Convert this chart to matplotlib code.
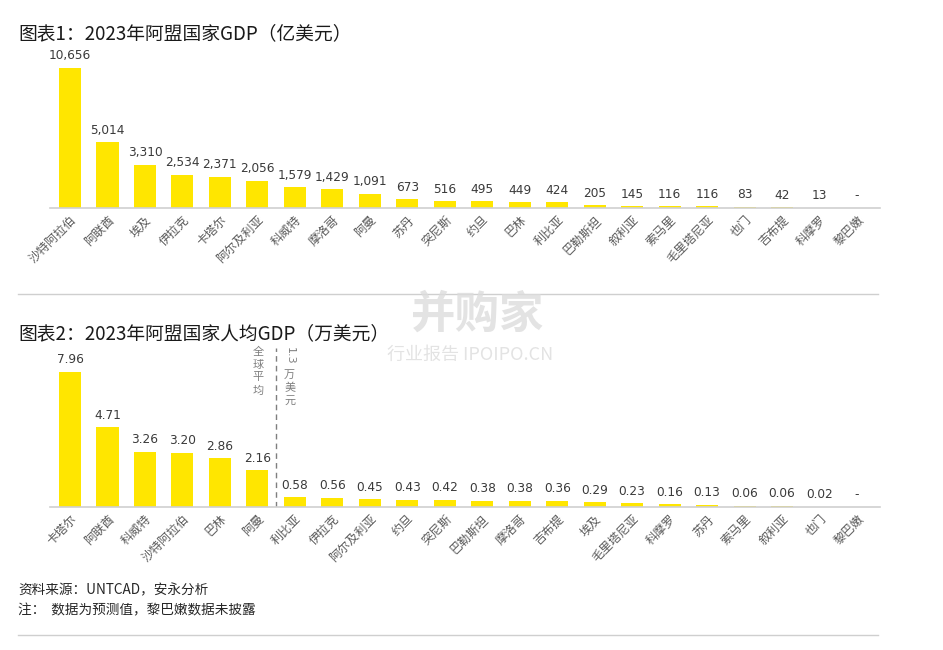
import matplotlib
matplotlib.use("Agg")
import matplotlib.pyplot as plt
import numpy as np

plt.rcParams['font.family'] = ['Noto Sans CJK SC', 'DejaVu Sans']

# ---- data ----
gdp_countries = ["沙特阿拉伯", "阿联酋", "埃及", "伊拉克", "卡塔尔", "阿尔及利亚", "科威特",
                 "摩洛哥", "阿曼", "苏丹", "突尼斯", "约旦", "巴林", "利比亚", "巴勒斯坦",
                 "叙利亚", "索马里", "毛里塔尼亚", "也门", "吉布提", "科摩罗", "黎巴嫩"]
gdp_values = [10656, 5014, 3310, 2534, 2371, 2056, 1579, 1429, 1091, 673, 516, 495,
              449, 424, 205, 145, 116, 116, 83, 42, 13, None]

pc_countries = ["卡塔尔", "阿联酋", "科威特", "沙特阿拉伯", "巴林", "阿曼", "利比亚", "伊拉克",
                "阿尔及利亚", "约旦", "突尼斯", "巴勒斯坦", "摩洛哥", "吉布提", "埃及",
                "毛里塔尼亚", "科摩罗", "苏丹", "索马里", "叙利亚", "也门", "黎巴嫩"]
pc_values = [7.96, 4.71, 3.26, 3.20, 2.86, 2.16, 0.58, 0.56, 0.45, 0.43, 0.42, 0.38,
             0.38, 0.36, 0.29, 0.23, 0.16, 0.13, 0.06, 0.06, 0.02, None]
world_avg_position = 5.5

title1 = "图表1：2023年阿盟国家GDP（亿美元）"
title2 = "图表2：2023年阿盟国家人均GDP（万美元）"
source_text = "资料来源：UNTCAD，安永分析"
note_text = "注：  数据为预测值，黎巴嫩数据未披露"

W, H = 943, 650
fig = plt.figure(figsize=(W / 100, H / 100), dpi=100)

YELLOW = "#FFE600"
TXT = "#3a3a3a"
TICK = "#595959"


def px_axes(x0, y_top, x1, y_bottom):
    return fig.add_axes([x0 / W, 1 - y_bottom / H, (x1 - x0) / W, (y_bottom - y_top) / H])


def draw(ax, cats, vals, fmt, top_px_for_max, height_px):
    n = len(cats)
    x = np.arange(n)
    v = np.array([np.nan if a is None else a for a in vals], dtype=float)
    ax.bar(x, np.nan_to_num(v), width=0.59, color=YELLOW, zorder=2)
    vmax = np.nanmax(v)
    ax.set_ylim(0, vmax * height_px / top_px_for_max)
    spacing = 37.48
    ax.set_xlim(-20 / spacing, n - 1 + 23 / spacing)
    for i, a in enumerate(vals):
        lab = "-" if a is None else fmt(a)
        y = 0 if a is None else a
        ax.annotate(lab, (i, y), xytext=(0, 4), textcoords="offset points",
                    ha="center", va="bottom", fontsize=8.7, color=TXT,
                    family=["DejaVu Sans"])
    ax.set_xticks(x)
    ax.set_xticklabels(cats, rotation=45, ha="right", rotation_mode="anchor",
                       fontsize=8.7, color=TICK)
    ax.tick_params(axis="x", length=0, pad=4)
    ax.set_yticks([])
    for s in ["top", "right", "left"]:
        ax.spines[s].set_visible(False)
    ax.spines["bottom"].set_color("#d0d0d0")
    ax.spines["bottom"].set_linewidth(1.2)
    ax.patch.set_alpha(0)


# chart 1
ax1 = px_axes(50, 50, 880, 208)
draw(ax1, gdp_countries, gdp_values, lambda a: f"{a:,.0f}", 140, 158)

# chart 2
ax2 = px_axes(50, 345, 880, 507)
draw(ax2, pc_countries, pc_values, lambda a: f"{a:.2f}", 135, 162)
ax2.axvline(world_avg_position, ymin=0, ymax=1 - 3 / 162, color="#7f7f7f",
            linestyle=(0, (4, 3)), linewidth=1.0, zorder=1)
ytop = ax2.get_ylim()[1]
ax2.text(world_avg_position - 0.48, ytop * 0.99, "全\n球\n平\n均",
         ha="center", va="top", fontsize=8, color="#7f7f7f", linespacing=1.35)
ax2.text(world_avg_position + 0.36, ytop * 0.99, "1.3",
         ha="center", va="top", fontsize=8, color="#7f7f7f", rotation=270,
         family=["DejaVu Sans"])
ax2.text(world_avg_position + 0.36, ytop * 0.845, "万\n美\n元",
         ha="center", va="top", fontsize=8, color="#7f7f7f", linespacing=1.35)

# titles
fig.text(18 / W, 1 - 34 / H, title1, fontsize=13.5, color="#1a1a1a", va="center")
fig.text(18 / W, 1 - 334 / H, title2, fontsize=13.5, color="#1a1a1a", va="center")

# separators
fig.add_artist(plt.Line2D([18 / W, 878 / W], [1 - 294 / H, 1 - 294 / H],
                          color="#cfcfcf", linewidth=1.0))
fig.add_artist(plt.Line2D([18 / W, 878 / W], [1 - 635 / H, 1 - 635 / H],
                          color="#cfcfcf", linewidth=1.0))

# source / notes
fig.text(18 / W, 1 - 590 / H, source_text, fontsize=9.8, color="#262626", va="center")
fig.text(18 / W, 1 - 610 / H, note_text, fontsize=9.8, color="#262626", va="center")

# faint watermark
fig.text(478 / W, 1 - 315 / H, "并购家", fontsize=32, color="#dcdcdc", alpha=0.8,
         ha="center", va="center", fontweight="bold")
fig.text(470 / W, 1 - 355 / H, "行业报告 IPOIPO.CN", fontsize=13, color="#dcdcdc",
         alpha=0.8, ha="center", va="center")

fig.savefig("out.png", dpi=100)
